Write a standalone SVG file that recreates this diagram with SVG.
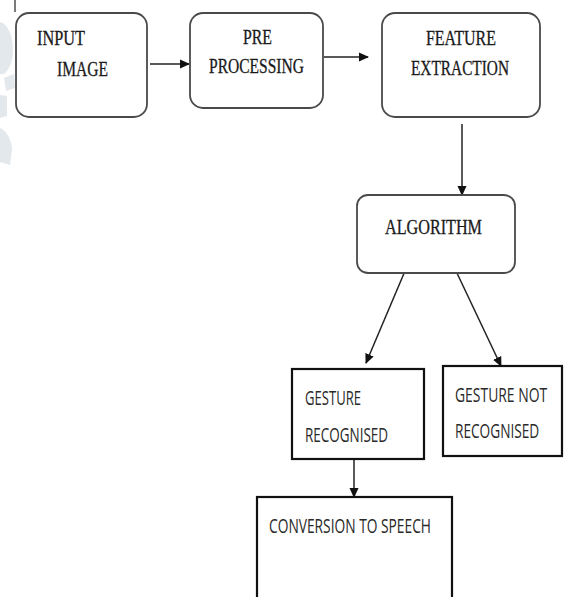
<svg xmlns="http://www.w3.org/2000/svg" width="564" height="597" viewBox="0 0 564 597">
<defs>
<style>
.rb{fill:#fff;stroke:#4a4a4a;stroke-width:1.8}
.sb{fill:#fff;stroke:#111;stroke-width:2.2}
.ser{font-family:"Liberation Serif","DejaVu Serif",serif;font-size:20px;fill:#1a1a1a;stroke:#1a1a1a;stroke-width:0.3}
.san{font-family:"Open Sans","Noto Sans","Liberation Sans",sans-serif;font-size:20px;fill:#2a2a2a}
.cn{stroke:#222;stroke-width:1.5;fill:none}
</style>
<marker id="ah" markerWidth="11" markerHeight="11" refX="9" refY="5.5" orient="auto" markerUnits="userSpaceOnUse">
<path d="M0,1 L10,5.5 L0,10 Z" fill="#111"/>
</marker>
</defs>
<rect width="564" height="597" fill="#fff"/>
<g id="watermark" fill="#e3e8ec">
<path d="M0,22 C8,24 13,36 13,50 C13,62 9,70 4,74 L0,74 Z"/>
<path d="M4,78 L14,74 L15,88 L6,91 Z"/>
<path d="M0,95 L7,96 L7,116 L0,118 Z"/>
<path d="M0,128 C6,130 12,140 12,150 L10,165 L0,162 Z"/>
</g>
<line x1="15" y1="0" x2="15" y2="12" stroke="#222" stroke-width="1.2"/>
<g id="connectors">
<line class="cn" x1="150" y1="64" x2="189" y2="64" marker-end="url(#ah)"/>
<line class="cn" x1="324" y1="57" x2="368" y2="57" marker-end="url(#ah)"/>
<line class="cn" x1="462" y1="124" x2="462" y2="195" marker-end="url(#ah)"/>
<line class="cn" x1="405" y1="271" x2="366" y2="363" marker-end="url(#ah)"/>
<line class="cn" x1="456" y1="271" x2="501" y2="366" marker-end="url(#ah)"/>
<line class="cn" x1="354" y1="460" x2="354" y2="497" marker-end="url(#ah)"/>
</g>
<g id="input-image">
<rect class="rb" x="16" y="13" width="131" height="104" rx="13"/>
<text class="ser" x="37" y="45" textLength="48" lengthAdjust="spacingAndGlyphs">INPUT</text>
<text class="ser" x="57" y="76" textLength="51" lengthAdjust="spacingAndGlyphs">IMAGE</text>
</g>
<g id="pre-processing">
<rect class="rb" x="190" y="13" width="133" height="95" rx="13"/>
<text class="ser" x="243" y="44" textLength="29" lengthAdjust="spacingAndGlyphs">PRE</text>
<text class="ser" x="209" y="73" textLength="95" lengthAdjust="spacingAndGlyphs">PROCESSING</text>
</g>
<g id="feature-extraction">
<rect class="rb" x="382" y="13" width="158" height="104" rx="13"/>
<text class="ser" x="426" y="45" textLength="70" lengthAdjust="spacingAndGlyphs">FEATURE</text>
<text class="ser" x="411" y="75" textLength="98" lengthAdjust="spacingAndGlyphs">EXTRACTION</text>
</g>
<g id="algorithm">
<rect class="rb" x="357" y="195" width="158" height="78" rx="11"/>
<text class="ser" x="385" y="234" textLength="97" lengthAdjust="spacingAndGlyphs">ALGORITHM</text>
</g>
<g id="gesture-recognised">
<rect class="sb" x="292" y="369" width="132" height="90"/>
<text class="san" x="305" y="405" textLength="56" lengthAdjust="spacingAndGlyphs">GESTURE</text>
<text class="san" x="305" y="442" textLength="83" lengthAdjust="spacingAndGlyphs">RECOGNISED</text>
</g>
<g id="gesture-not-recognised">
<rect class="sb" x="443" y="366" width="119" height="90"/>
<text class="san" transform="translate(455,402) scale(0.72,1)" x="0" y="0" textLength="128" lengthAdjust="spacingAndGlyphs">GESTURE NOT</text>
<text class="san" transform="translate(455,438) scale(0.72,1)" x="0" y="0" textLength="117" lengthAdjust="spacingAndGlyphs">RECOGNISED</text>
</g>
<g id="conversion-to-speech">
<rect class="sb" x="257" y="497" width="195" height="104"/>
<text class="san" x="269" y="533" textLength="162" lengthAdjust="spacingAndGlyphs">CONVERSION TO SPEECH</text>
</g>
</svg>
